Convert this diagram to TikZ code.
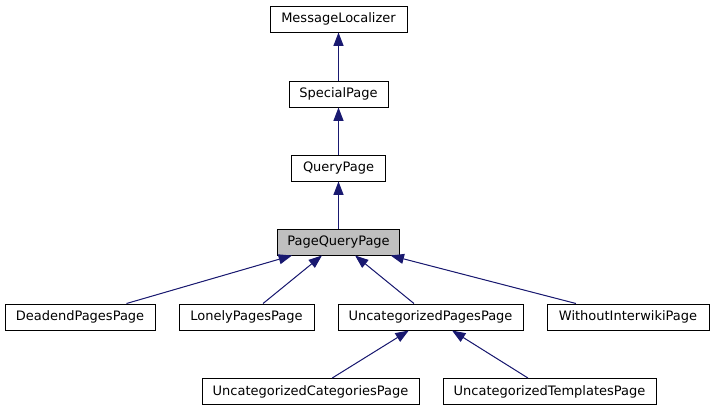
\documentclass[tikz,border=0pt]{standalone}
\usepackage{fontspec}
\setmainfont{DejaVu Sans}
\usetikzlibrary{arrows.meta}
\definecolor{edgeblue}{HTML}{191970}
\definecolor{hilite}{HTML}{BFBFBF}
\begin{document}
\begin{tikzpicture}[x=0.75pt,y=-0.75pt,
  box/.style={draw=black,line width=0.75pt,fill=white,inner sep=0pt,
    minimum height=19.5pt,font=\fontsize{9.75}{12}\selectfont},
  inh/.style={draw=edgeblue,line width=0.75pt,
    -{Triangle[length=10pt,width=7.5pt]},fill=edgeblue}]
\useasboundingbox (0,0) rectangle (714,411);
\node[box,minimum width={137*0.75pt}] (ml) at (338.5,19) {MessageLocalizer};
\node[box,minimum width={99*0.75pt}] (sp) at (338.5,94) {SpecialPage};
\node[box,minimum width={94*0.75pt}] (qp) at (338.5,168) {QueryPage};
\node[box,fill=hilite,minimum width={122*0.75pt}] (pqp) at (338.5,242) {PageQueryPage};
\node[box,minimum width={150*0.75pt}] (dead) at (80,317) {DeadendPagesPage};
\node[box,minimum width={135*0.75pt}] (lonely) at (246.5,317) {LonelyPagesPage};
\node[box,minimum width={185*0.75pt}] (uncat) at (430.5,317) {UncategorizedPagesPage};
\node[box,minimum width={162*0.75pt}] (without) at (628,317) {WithoutInterwikiPage};
\node[box,minimum width={217*0.75pt}] (ucat) at (310.5,391.5) {UncategorizedCategoriesPage};
\node[box,minimum width={213*0.75pt}] (utempl) at (549.5,391.5) {UncategorizedTemplatesPage};
\draw[inh] (sp) -- (ml);
\draw[inh] (qp) -- (sp);
\draw[inh] (pqp) -- (qp);
\draw[inh] (dead) -- (pqp);
\draw[inh] (lonely) -- (pqp);
\draw[inh] (uncat) -- (pqp);
\draw[inh] (without) -- (pqp);
\draw[inh] (ucat) -- (uncat);
\draw[inh] (utempl) -- (uncat);
\end{tikzpicture}
\end{document}
